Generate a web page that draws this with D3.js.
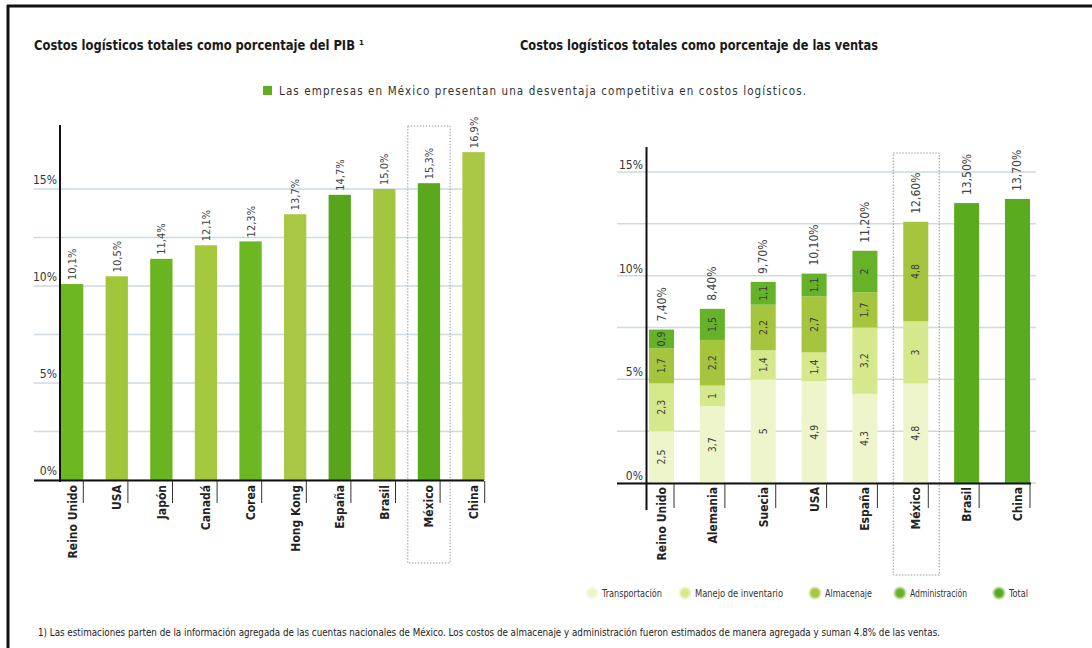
<!DOCTYPE html>
<html>
<head>
<meta charset="utf-8">
<script src="https://cdn.jsdelivr.net/npm/d3@7"></script>
<style>
  body { margin: 0; background: #fff; }
  svg { display: block; font-family: "Liberation Sans Narrow", "DejaVu Sans Condensed", "Noto Sans", sans-serif; }
</style>
</head>
<body>
<svg id="chart" width="1092" height="648"></svg>
<script>
// Costos logísticos totales como porcentaje del PIB
const paisesPIB = ["Reino Unido", "USA", "Japón", "Canadá", "Corea", "Hong Kong", "España", "Brasil", "México", "China"];
const costoPIB = [10.1, 10.5, 11.4, 12.1, 12.3, 13.7, 14.7, 15.0, 15.3, 16.9];

// Costos logísticos totales como porcentaje de las ventas (componentes)
const paisesVentas = ["Reino Unido", "Alemania", "Suecia", "USA", "España", "México", "Brasil", "China"];
const transportacion   = [2.5, 3.7, 5.0, 4.9, 4.3, 4.8, null, null];
const manejoInventario = [2.3, 1.0, 1.4, 1.4, 3.2, 3.0, null, null];
// México: almacenaje y administración estimados de manera agregada
const almacenaje       = [1.7, 2.2, 2.2, 2.7, 1.7, 4.8, null, null];
const administracion   = [0.9, 1.5, 1.1, 1.1, 2.0, null, null, null];
const totalVentas      = [7.4, 8.4, 9.7, 10.1, 11.2, 12.6, 13.5, 13.7];

const ticksEtiqueta = [0, 5, 10, 15];
const ticksRejilla = [0, 2.5, 5, 7.5, 10, 12.5, 15];
const leyendaItems = ["Transportación", "Manejo de inventario", "Almacenaje", "Administración", "Total"];

const svg = d3.select("#chart");
const coma = v => String(v).replace(".", ",");

// Marco
svg.append("line").attr("x1", 7).attr("x2", 1092).attr("y1", 6).attr("y2", 6)
  .attr("stroke", "#111").attr("stroke-width", 3);
svg.append("line").attr("x1", 8).attr("x2", 8).attr("y1", 5).attr("y2", 648)
  .attr("stroke", "#111").attr("stroke-width", 3);

// Títulos
svg.append("text").attr("x", 34).attr("y", 50)
  .attr("font-size", 14).attr("font-weight", "bold").attr("fill", "#1a1a1a")
  .attr("textLength", 330).attr("lengthAdjust", "spacingAndGlyphs")
  .text("Costos logísticos totales como porcentaje del PIB ¹");
svg.append("text").attr("x", 520).attr("y", 50)
  .attr("font-size", 14).attr("font-weight", "bold").attr("fill", "#1a1a1a")
  .attr("textLength", 358).attr("lengthAdjust", "spacingAndGlyphs")
  .text("Costos logísticos totales como porcentaje de las ventas");

// Nota
svg.append("rect").attr("x", 263).attr("y", 86).attr("width", 9).attr("height", 9).attr("fill", "#5fae22");
svg.append("text").attr("x", 279).attr("y", 95)
  .attr("font-size", 11.5).attr("fill", "#333")
  .attr("textLength", 527).attr("lengthAdjust", "spacing")
  .text("Las empresas en México presentan una desventaja competitiva en costos logísticos.");

// ---------- Gráfica izquierda: % del PIB ----------
const xL = d3.scaleBand().domain(paisesPIB).range([61, 484.7]).paddingInner(0.5).paddingOuter(0).align(0);
const yL = d3.scaleLinear().domain([0, 15]).range([480, 189]);
const gL = svg.append("g");

gL.selectAll("line.grid").data(ticksRejilla).join("line")
  .attr("class", "grid")
  .attr("x1", 34).attr("x2", 462)
  .attr("y1", d => yL(d)).attr("y2", d => yL(d))
  .attr("stroke", "#cfd9df").attr("stroke-width", 1.5);

gL.selectAll("text.ytick").data(ticksEtiqueta).join("text")
  .attr("class", "ytick")
  .attr("x", 57).attr("y", d => yL(d) - 5)
  .attr("text-anchor", "end").attr("font-size", 12).attr("fill", "#333")
  .text(d => d + "%");

// Recuadro de México
gL.append("rect")
  .attr("x", xL("México") - 10).attr("y", 126)
  .attr("width", xL.bandwidth() + 20).attr("height", 437)
  .attr("fill", "none").attr("stroke", "#9a9a9a").attr("stroke-width", 1)
  .attr("stroke-dasharray", "1.5,1.5");

const tonoPIB = {
  "Reino Unido": "#6db821", "USA": "#a0c63b", "Japón": "#69b51f", "Canadá": "#a5c83e",
  "Corea": "#6cb822", "Hong Kong": "#a8c845", "España": "#58a51b", "Brasil": "#a4c540",
  "México": "#5aa81c", "China": "#a8c744"
};

gL.selectAll("rect.bar").data(paisesPIB).join("rect")
  .attr("class", "bar")
  .attr("x", d => xL(d)).attr("width", xL.bandwidth())
  .attr("y", (d, i) => yL(costoPIB[i]))
  .attr("height", (d, i) => yL(0) - yL(costoPIB[i]))
  .attr("fill", d => tonoPIB[d]);

gL.selectAll("text.val").data(paisesPIB).join("text")
  .attr("class", "val")
  .attr("transform", (d, i) => `translate(${xL(d) + xL.bandwidth() / 2 + 4},${yL(costoPIB[i]) - 4}) rotate(-90)`)
  .attr("font-size", 11).attr("fill", "#444")
  .text((d, i) => costoPIB[i].toFixed(1).replace(".", ",") + "%");

// Ejes
gL.append("line").attr("x1", 34).attr("x2", 484).attr("y1", 480.5).attr("y2", 480.5)
  .attr("stroke", "#111").attr("stroke-width", 2);
gL.append("line").attr("x1", 60).attr("x2", 60).attr("y1", 125).attr("y2", 482)
  .attr("stroke", "#111").attr("stroke-width", 2);

gL.selectAll("line.xtick").data(paisesPIB).join("line")
  .attr("class", "xtick")
  .attr("x1", d => xL(d) + xL.bandwidth()).attr("x2", d => xL(d) + xL.bandwidth())
  .attr("y1", 481).attr("y2", 503)
  .attr("stroke", "#333").attr("stroke-width", 1);

gL.selectAll("text.xlab").data(paisesPIB).join("text")
  .attr("class", "xlab")
  .attr("transform", d => `translate(${xL(d) + xL.bandwidth() / 2 + 4.5},${485}) rotate(-90)`)
  .attr("text-anchor", "end").attr("font-size", 12).attr("font-weight", "bold").attr("fill", "#222")
  .text(d => d);

// ---------- Gráfica derecha: % de las ventas ----------
const xR = d3.scaleBand().domain(paisesVentas).range([649, 1030]).paddingInner(0.508).paddingOuter(0).align(0);
const yR = d3.scaleLinear().domain([0, 15]).range([483, 172]);
const gR = svg.append("g");

gR.selectAll("line.grid").data(ticksRejilla).join("line")
  .attr("class", "grid")
  .attr("x1", 617).attr("x2", 1036)
  .attr("y1", d => yR(d)).attr("y2", d => yR(d))
  .attr("stroke", "#cfd9df").attr("stroke-width", 1.5);

gR.selectAll("text.ytick").data(ticksEtiqueta).join("text")
  .attr("class", "ytick")
  .attr("x", 643).attr("y", d => yR(d) - 3)
  .attr("text-anchor", "end").attr("font-size", 12).attr("fill", "#333")
  .text(d => d + "%");

gR.append("rect")
  .attr("x", xR("México") - 10).attr("y", 153)
  .attr("width", xR.bandwidth() + 21).attr("height", 422)
  .attr("fill", "none").attr("stroke", "#9a9a9a").attr("stroke-width", 1)
  .attr("stroke-dasharray", "1.5,1.5");

const claves = ["transportacion", "manejo", "almacenaje", "administracion"];
const colores = {
  transportacion: "#eef5cb", manejo: "#d5e98c", almacenaje: "#a6c53f",
  administracion: "#66b229", total: "#5aab1e"
};
const filas = paisesVentas.map((p, i) => ({
  pais: p,
  transportacion: transportacion[i] || 0,
  manejo: manejoInventario[i] || 0,
  almacenaje: almacenaje[i] || 0,
  administracion: administracion[i] || 0,
  total: totalVentas[i]
}));
const pila = d3.stack().keys(claves)(filas);

pila.forEach(serie => {
  const segs = serie.filter(d => d[1] - d[0] > 0);
  gR.selectAll(null).data(segs).join("rect")
    .attr("x", d => xR(d.data.pais)).attr("width", xR.bandwidth())
    .attr("y", d => yR(d[1])).attr("height", d => yR(d[0]) - yR(d[1]))
    .attr("fill", colores[serie.key]);
  gR.selectAll(null).data(segs).join("text")
    .attr("transform", d => `translate(${xR(d.data.pais) + xR.bandwidth() / 2 + 3.5},${(yR(d[0]) + yR(d[1])) / 2}) rotate(-90)`)
    .attr("text-anchor", "middle").attr("font-size", 10.5).attr("fill", "#3a3a3a")
    .text(d => coma(d.data[serie.key]));
});

// Países con sólo el total
const soloTotal = filas.filter(f => claves.every(k => f[k] === 0));
gR.selectAll("rect.total").data(soloTotal).join("rect")
  .attr("class", "total")
  .attr("x", d => xR(d.pais)).attr("width", xR.bandwidth())
  .attr("y", d => yR(d.total)).attr("height", d => yR(0) - yR(d.total))
  .attr("fill", colores.total);

gR.selectAll("text.val").data(filas).join("text")
  .attr("class", "val")
  .attr("transform", d => `translate(${xR(d.pais) + xR.bandwidth() / 2 + 4},${yR(d.total) - 8}) rotate(-90)`)
  .attr("font-size", 12).attr("fill", "#444")
  .text(d => d.total.toFixed(2).replace(".", ",") + "%");

gR.append("line").attr("x1", 617).attr("x2", 1031).attr("y1", 483.5).attr("y2", 483.5)
  .attr("stroke", "#111").attr("stroke-width", 2);
gR.append("line").attr("x1", 646.5).attr("x2", 646.5).attr("y1", 147).attr("y2", 510)
  .attr("stroke", "#111").attr("stroke-width", 2);

gR.selectAll("line.xtick").data(paisesVentas).join("line")
  .attr("class", "xtick")
  .attr("x1", d => xR(d) + xR.bandwidth()).attr("x2", d => xR(d) + xR.bandwidth())
  .attr("y1", 484).attr("y2", 508)
  .attr("stroke", "#333").attr("stroke-width", 1);

gR.selectAll("text.xlab").data(paisesVentas).join("text")
  .attr("class", "xlab")
  .attr("transform", d => `translate(${xR(d) + xR.bandwidth() / 2 + 4.5},${487}) rotate(-90)`)
  .attr("text-anchor", "end").attr("font-size", 12).attr("font-weight", "bold").attr("fill", "#222")
  .text(d => d);

// Leyenda
const defs = svg.append("defs");
defs.append("filter").attr("id", "suave").append("feGaussianBlur").attr("stdDeviation", 0.9);
const colLeyenda = [colores.transportacion, colores.manejo, colores.almacenaje, colores.administracion, colores.total];
const xLeyenda = [592, 685, 815, 900, 999];
const anchoLeyenda = [60, 88, 47, 57, 19];
const gLey = svg.append("g");
leyendaItems.forEach((t, i) => {
  gLey.append("circle").attr("cx", xLeyenda[i]).attr("cy", 593).attr("r", 5.5)
    .attr("fill", colLeyenda[i]).attr("filter", "url(#suave)");
  gLey.append("text").attr("x", xLeyenda[i] + 10).attr("y", 597)
    .attr("font-size", 11).attr("fill", "#333")
    .attr("textLength", anchoLeyenda[i]).attr("lengthAdjust", "spacingAndGlyphs")
    .text(t);
});

// Nota al pie
svg.append("text").attr("x", 38).attr("y", 636)
  .attr("font-size", 10.5).attr("fill", "#222")
  .attr("textLength", 902).attr("lengthAdjust", "spacingAndGlyphs")
  .text("1) Las estimaciones parten de la información agregada de las cuentas nacionales de México. Los costos de almacenaje y administración fueron estimados de manera agregada y suman 4.8% de las ventas.");
</script>
</body>
</html>
